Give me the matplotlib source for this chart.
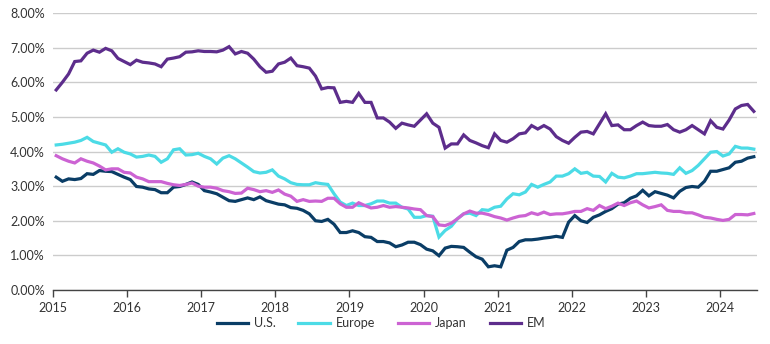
import numpy as np
import matplotlib
matplotlib.use("Agg")
import matplotlib.pyplot as plt
from matplotlib.ticker import FuncFormatter

# monthly values, Jan 2015 - Jun 2024 (%)
us = [
    3.26, 3.14, 3.21, 3.19, 3.22, 3.36, 3.34, 3.45, 3.43, 3.42, 3.34, 3.26,
    3.19, 2.99, 2.97, 2.92, 2.90, 2.81, 2.81, 2.97, 2.99, 3.05, 3.12, 3.05,
    2.87, 2.83, 2.78, 2.68, 2.58, 2.56, 2.61, 2.66, 2.61, 2.69, 2.58, 2.53,
    2.48, 2.46, 2.38, 2.36, 2.30, 2.20, 2.00, 1.98, 2.04, 1.90, 1.66, 1.66,
    1.71, 1.66, 1.54, 1.52, 1.40, 1.40, 1.36, 1.25, 1.30, 1.38, 1.38, 1.31,
    1.18, 1.13, 0.99, 1.21, 1.26, 1.25, 1.23, 1.09, 0.96, 0.89, 0.67, 0.70,
    0.67, 1.15, 1.23, 1.40, 1.45, 1.45, 1.47, 1.50, 1.52, 1.55, 1.52, 1.96,
    2.15, 2.00, 1.95, 2.10, 2.17, 2.27, 2.35, 2.48, 2.52, 2.65, 2.72, 2.88,
    2.72, 2.84, 2.79, 2.74, 2.66, 2.85, 2.96, 2.99, 2.97, 3.14, 3.43, 3.43,
    3.48, 3.53, 3.69, 3.72, 3.81, 3.85,
]
europe = [
    4.19, 4.21, 4.24, 4.27, 4.32, 4.41, 4.29, 4.24, 4.19, 3.98, 4.08, 3.98,
    3.93, 3.84, 3.86, 3.90, 3.86, 3.69, 3.79, 4.05, 4.08, 3.90, 3.91, 3.95,
    3.86, 3.79, 3.64, 3.81, 3.88, 3.79, 3.67, 3.55, 3.42, 3.38, 3.40, 3.47,
    3.29, 3.21, 3.10, 3.05, 3.04, 3.04, 3.10, 3.07, 3.05, 2.78, 2.54, 2.44,
    2.51, 2.44, 2.44, 2.49, 2.57, 2.57, 2.51, 2.51, 2.39, 2.34, 2.10, 2.10,
    2.15, 2.13, 1.53, 1.72, 1.84, 2.06, 2.20, 2.22, 2.15, 2.32, 2.30, 2.39,
    2.42, 2.63, 2.78, 2.75, 2.83, 3.05, 2.97, 3.05, 3.12, 3.29, 3.29, 3.36,
    3.50, 3.37, 3.40, 3.29, 3.28, 3.12, 3.37, 3.26, 3.24, 3.29, 3.36, 3.36,
    3.38, 3.40, 3.38, 3.37, 3.34, 3.53, 3.37, 3.45, 3.60, 3.79, 3.98, 4.00,
    3.87, 3.93, 4.15, 4.10, 4.10, 4.07,
]
japan = [
    3.88, 3.79, 3.72, 3.67, 3.79, 3.72, 3.67, 3.58, 3.47, 3.50, 3.50, 3.40,
    3.38, 3.26, 3.21, 3.13, 3.13, 3.13, 3.08, 3.04, 3.02, 3.05, 3.09, 3.00,
    2.97, 2.97, 2.94, 2.87, 2.84, 2.79, 2.80, 2.94, 2.90, 2.84, 2.87, 2.82,
    2.89, 2.77, 2.71, 2.56, 2.61, 2.56, 2.57, 2.56, 2.65, 2.65, 2.49, 2.39,
    2.39, 2.52, 2.44, 2.37, 2.39, 2.44, 2.39, 2.41, 2.39, 2.37, 2.34, 2.32,
    2.15, 2.12, 1.88, 1.86, 1.93, 2.06, 2.20, 2.28, 2.22, 2.22, 2.18, 2.12,
    2.08, 2.02, 2.08, 2.13, 2.15, 2.23, 2.18, 2.25, 2.18, 2.20, 2.20, 2.23,
    2.27, 2.27, 2.35, 2.30, 2.44, 2.35, 2.42, 2.51, 2.44, 2.52, 2.57, 2.46,
    2.37, 2.41, 2.46, 2.30, 2.27, 2.27, 2.23, 2.23, 2.17, 2.10, 2.08, 2.04,
    2.01, 2.04, 2.18, 2.18, 2.17, 2.21,
]
em = [
    5.78, 6.00, 6.24, 6.60, 6.62, 6.84, 6.93, 6.87, 6.98, 6.91, 6.69, 6.60,
    6.51, 6.64, 6.58, 6.56, 6.53, 6.45, 6.67, 6.70, 6.74, 6.87, 6.88, 6.91,
    6.89, 6.89, 6.88, 6.93, 7.03, 6.82, 6.89, 6.84, 6.67, 6.45, 6.29, 6.32,
    6.53, 6.58, 6.70, 6.48, 6.45, 6.41, 6.18, 5.81, 5.85, 5.84, 5.42, 5.45,
    5.42, 5.68, 5.42, 5.42, 4.97, 4.97, 4.85, 4.67, 4.82, 4.77, 4.73, 4.91,
    5.09, 4.82, 4.70, 4.10, 4.22, 4.22, 4.48, 4.32, 4.25, 4.17, 4.11, 4.51,
    4.32, 4.27, 4.37, 4.51, 4.54, 4.75, 4.65, 4.75, 4.65, 4.43, 4.32, 4.24,
    4.41, 4.56, 4.58, 4.51, 4.80, 5.09, 4.75, 4.77, 4.63, 4.63, 4.75, 4.85,
    4.75, 4.73, 4.73, 4.78, 4.63, 4.56, 4.63, 4.75, 4.63, 4.51, 4.89, 4.70,
    4.65, 4.91, 5.23, 5.33, 5.36, 5.16,
]
years = list(range(2015, 2025))

series = [
    ("U.S.", us, "#0a3d66"),
    ("Europe", europe, "#4cdbe6"),
    ("Japan", japan, "#cc63d3"),
    ("EM", em, "#5d2d8c"),
]

plt.rcParams["font.family"] = ["Lato", "DejaVu Sans"]

fig = plt.figure(figsize=(7.7, 3.44), dpi=100)
ax = fig.add_axes([0.069, 0.157, 0.914, 0.805])

months = 2015 + (np.arange(len(us)) + 0.5) / 12
for name, vals, color in series:
    ax.plot(months, vals, color=color, lw=2.3, label=name, solid_joinstyle="miter")

ax.set_xlim(2015, 2024.5)
ax.set_ylim(0, 8)
ax.set_yticks(np.arange(0, 9))
ax.yaxis.set_major_formatter(FuncFormatter(lambda v, _: f"{v:.2f}%"))
ax.set_xticks(years)
ax.set_xticklabels([str(y) for y in years])

ax.grid(axis="y", color="#cccccc", lw=1)
ax.set_axisbelow(True)
for s in ["top", "right", "left"]:
    ax.spines[s].set_visible(False)
ax.spines["bottom"].set_color("#444444")
ax.spines["bottom"].set_linewidth(1)
ax.tick_params(axis="y", length=0, labelsize=9, colors="#333333", pad=6)
ax.tick_params(axis="x", length=5, width=1, color="#444444", labelsize=9,
               labelcolor="#333333", pad=4)

fig.legend(loc="lower center", bbox_to_anchor=(0.495, 0.01), ncol=4, frameon=False,
           fontsize=9, handlelength=2.5, handletextpad=0.5, columnspacing=1.8,
           labelcolor="#333333")

fig.savefig("out.png", dpi=100)
